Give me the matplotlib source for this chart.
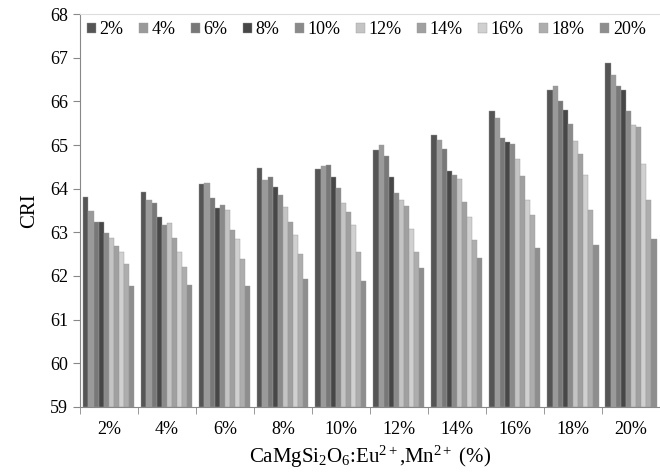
import numpy as np
import matplotlib
matplotlib.use("Agg")
import matplotlib.pyplot as plt
from matplotlib.ticker import FixedLocator

plt.rcParams['font.family'] = ['Liberation Serif', 'DejaVu Serif']
plt.rcParams['mathtext.fontset'] = 'custom'
plt.rcParams['mathtext.rm'] = 'Liberation Serif'
plt.rcParams['mathtext.it'] = 'Liberation Serif:italic'

# categorias del eje x (CaMgSi2O6) y series de la leyenda
categorias = ["2%", "4%", "6%", "8%", "10%", "12%", "14%", "16%", "18%", "20%"]
series = ["2%", "4%", "6%", "8%", "10%", "12%", "14%", "16%", "18%", "20%"]

# valores CRI, una lista por serie (cada valor = una categoria)
s2 = [63.82, 63.92, 64.11, 64.47, 64.46, 64.89, 65.23, 65.78, 66.26, 66.87]
s4 = [63.50, 63.75, 64.12, 64.21, 64.53, 65.01, 65.12, 65.61, 66.35, 66.60]
s6 = [63.24, 63.67, 63.79, 64.27, 64.55, 64.74, 64.90, 65.17, 66.00, 66.35]
s8 = [63.24, 63.36, 63.55, 64.05, 64.27, 64.26, 64.40, 65.08, 65.80, 66.27]
s10 = [62.98, 63.16, 63.62, 63.85, 64.01, 63.91, 64.31, 65.03, 65.49, 65.78]
s12 = [62.86, 63.21, 63.52, 63.59, 63.68, 63.74, 64.23, 64.68, 65.10, 65.45]
s14 = [62.68, 62.87, 63.06, 63.24, 63.46, 63.60, 63.70, 64.28, 64.80, 65.41]
s16 = [62.56, 62.56, 62.85, 62.93, 63.16, 63.08, 63.36, 63.73, 64.31, 64.57]
s18 = [62.28, 62.21, 62.40, 62.50, 62.56, 62.56, 62.83, 63.40, 63.52, 63.73]
s20 = [61.78, 61.80, 61.76, 61.92, 61.89, 62.18, 62.42, 62.63, 62.70, 62.84]
valores = [s2, s4, s6, s8, s10, s12, s14, s16, s18, s20]

colores = ["#555555", "#9a9a9a", "#787878", "#474747", "#8a8a8a",
           "#c4c4c4", "#a0a0a0", "#d0d0d0", "#adadad", "#8e8e8e"]

fig = plt.figure(figsize=(6.6, 4.72), dpi=100)
ax = fig.add_axes([0.121, 0.138, 0.879, 0.832])

x = np.arange(len(categorias))
ancho = 0.088
for i, (nombre, vals) in enumerate(zip(series, valores)):
    pos = x + (i - 4.5) * ancho
    ax.bar(pos, np.array(vals) - 59, width=ancho, bottom=59, color=colores[i],
           edgecolor="#9a9a9a", linewidth=0.3, label=nombre)

ax.set_ylim(59, 68)
ax.set_xlim(-0.5, len(categorias) - 0.5)
ax.set_yticks(range(59, 69))
ax.set_xticks(x)
ax.set_xticklabels(categorias)
ax.xaxis.set_minor_locator(FixedLocator(np.arange(-0.5, len(categorias), 1)))
ax.tick_params(axis='x', which='major', length=0, labelsize=13, pad=10)
ax.tick_params(axis='x', which='minor', length=5, color="#888888", direction='out')
ax.tick_params(axis='y', length=5, color="#888888", labelsize=13, direction='out')

for lado in ["left", "bottom"]:
    ax.spines[lado].set_color("#888888")
ax.spines["top"].set_color("#dddddd")
ax.spines["right"].set_visible(False)

ax.set_ylabel("CRI", fontsize=15, labelpad=8)
ax.set_xlabel(r"CaMgSi$_2$O$_6$:Eu$^{2+}$,Mn$^{2+}$ (%)", fontsize=15, labelpad=4)

ax.legend(loc="upper left", bbox_to_anchor=(0.0, 1.0), ncol=10, frameon=False,
          fontsize=13, handlelength=0.5, handleheight=0.5, handletextpad=0.2,
          columnspacing=0.85, borderaxespad=0.0)

plt.savefig("out.png", dpi=100)
